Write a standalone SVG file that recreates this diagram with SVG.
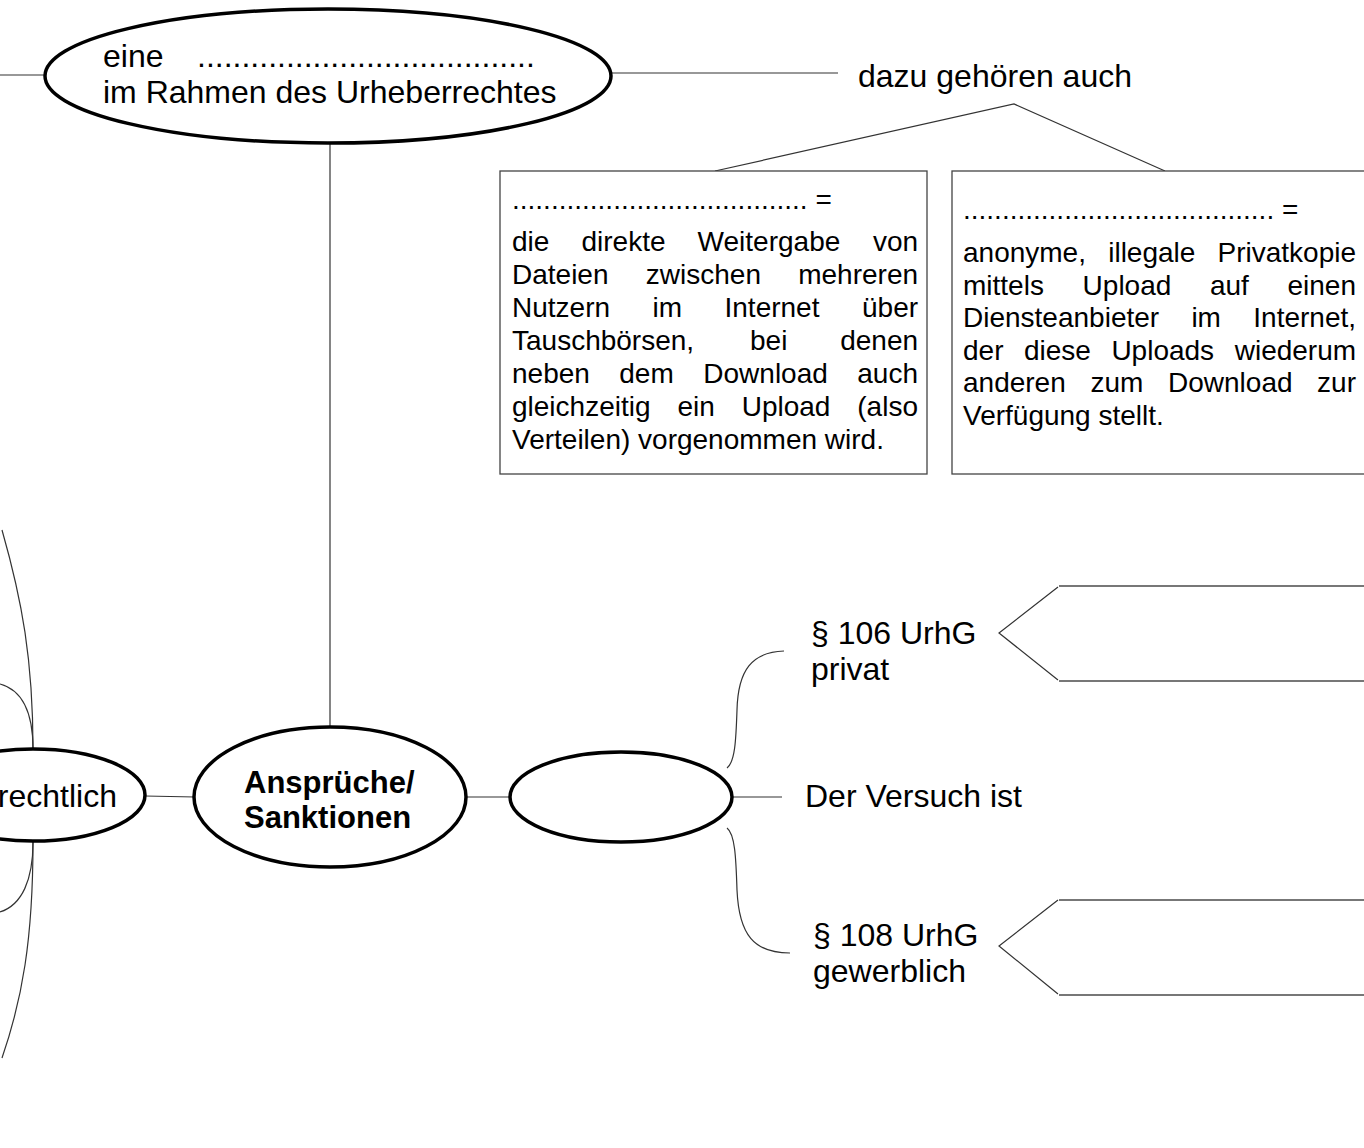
<svg xmlns="http://www.w3.org/2000/svg" width="1364" height="1148" viewBox="0 0 1364 1148">
<style>
text{font-family:"Liberation Sans",Arial,sans-serif;fill:#000}
.lbl{font-size:32px}
.box{font-size:28px}
.b{font-weight:bold;font-size:31px}
.node{fill:#fff;stroke:#000;stroke-width:3.5}
.rect{fill:#fff;stroke:#444;stroke-width:1.3}
.con{fill:none;stroke:#333;stroke-width:1.2}
.gray{fill:none;stroke:#777;stroke-width:2}
</style>
<rect width="1364" height="1148" fill="#fff"/>
<g id="connectors">
<line class="con" x1="0" y1="75" x2="46" y2="75"/>
<line class="con" x1="610" y1="73" x2="838" y2="73"/>
<polyline class="con" points="715,171 1014,104 1165,171"/>
<line class="con" x1="330" y1="142" x2="330" y2="727"/>
<line class="con" x1="145" y1="796" x2="195" y2="797"/>
<line class="con" x1="466" y1="797" x2="511" y2="797"/>
<line class="con" x1="732" y1="797" x2="782" y2="797"/>
<path class="con" d="M33,749 C33,660 22,600 2,530"/>
<path class="con" d="M0,684 C22,690 33,712 33,749"/>
<path class="con" d="M33,842 C33,880 22,905 0,912"/>
<path class="con" d="M33,842 C33,940 22,1000 2,1058"/>
<path class="con" d="M727,768 C735,762 736,740 737,710 C738,670 752,652 784,651"/>
<path class="con" d="M727,828 C735,834 736,858 737,890 C739,935 754,953 790,953"/>
<polyline class="con" points="1058,587 999,633 1058,680"/>
<polyline class="con" points="1058,900 999,946 1058,994"/>
<line class="gray" x1="1059" y1="586" x2="1364" y2="586"/>
<line class="gray" x1="1059" y1="681" x2="1364" y2="681"/>
<line class="gray" x1="1059" y1="900" x2="1364" y2="900"/>
<line class="gray" x1="1059" y1="995" x2="1364" y2="995"/>
</g>
<g id="node-top">
<ellipse class="node" cx="328" cy="76" rx="283" ry="67"/>
<text class="lbl" y="67"><tspan x="103">eine</tspan><tspan x="197">......................................</tspan></text>
<text class="lbl" x="103" y="103">im Rahmen des Urheberrechtes</text>
</g>
<g id="node-dazu">
<text class="lbl" x="858" y="87">dazu gehören auch</text>
</g>
<g id="node-box1">
<rect class="rect" x="500" y="171" width="427" height="303"/>
<text class="box" x="512" y="209">...................................... =</text>
<text class="box" y="251"><tspan x="512">die</tspan><tspan x="581.5">direkte</tspan><tspan x="697.6">Weitergabe</tspan><tspan x="872.9">von</tspan></text>
<text class="box" y="284"><tspan x="512">Dateien</tspan><tspan x="645.8">zwischen</tspan><tspan x="798.2">mehreren</tspan></text>
<text class="box" y="317"><tspan x="512">Nutzern</tspan><tspan x="652.5">im</tspan><tspan x="724.5">Internet</tspan><tspan x="862">über</tspan></text>
<text class="box" y="350"><tspan x="512">Tauschbörsen,</tspan><tspan x="750">bei</tspan><tspan x="840.2">denen</tspan></text>
<text class="box" y="383"><tspan x="512">neben</tspan><tspan x="619.3">dem</tspan><tspan x="703.3">Download</tspan><tspan x="857.3">auch</tspan></text>
<text class="box" y="416"><tspan x="512">gleichzeitig</tspan><tspan x="677.4">ein</tspan><tspan x="741.7">Upload</tspan><tspan x="857.3">(also</tspan></text>
<text class="box" x="512" y="449">Verteilen) vorgenommen wird.</text>
</g>
<g id="node-box2">
<rect class="rect" x="952" y="171" width="430" height="303"/>
<text class="box" x="963" y="219">........................................ =</text>
<text class="box" y="262"><tspan x="963">anonyme,</tspan><tspan x="1108.2">illegale</tspan><tspan x="1217.5">Privatkopie</tspan></text>
<text class="box" y="294.5"><tspan x="963">mittels</tspan><tspan x="1082.6">Upload</tspan><tspan x="1209.9">auf</tspan><tspan x="1287.5">einen</tspan></text>
<text class="box" y="327"><tspan x="963">Diensteanbieter</tspan><tspan x="1191.4">im</tspan><tspan x="1253.3">Internet,</tspan></text>
<text class="box" y="359.5"><tspan x="963">der</tspan><tspan x="1024">diese</tspan><tspan x="1111.4">Uploads</tspan><tspan x="1234.7">wiederum</tspan></text>
<text class="box" y="392"><tspan x="963">anderen</tspan><tspan x="1090.4">zum</tspan><tspan x="1168">Download</tspan><tspan x="1317.1">zur</tspan></text>
<text class="box" x="963" y="424.5">Verfügung stellt.</text>
</g>
<g id="node-rechtlich">
<ellipse class="node" cx="33" cy="795" rx="112" ry="46"/>
<text class="lbl" x="117" y="807" text-anchor="end">rechtlich</text>
</g>
<g id="node-ansprueche">
<ellipse class="node" cx="330" cy="797" rx="136" ry="70"/>
<text class="b" x="244" y="793">Ansprüche/</text>
<text class="b" x="244" y="828">Sanktionen</text>
</g>
<g id="node-empty">
<ellipse class="node" cx="621" cy="797" rx="111" ry="45"/>
</g>
<g id="node-versuch">
<text class="lbl" x="805" y="807">Der Versuch ist</text>
</g>
<g id="node-106">
<text class="lbl" x="811" y="644">§ 106 UrhG</text>
<text class="lbl" x="811" y="680">privat</text>
</g>
<g id="node-108">
<text class="lbl" x="813" y="946">§ 108 UrhG</text>
<text class="lbl" x="813" y="982">gewerblich</text>
</g>
</svg>
